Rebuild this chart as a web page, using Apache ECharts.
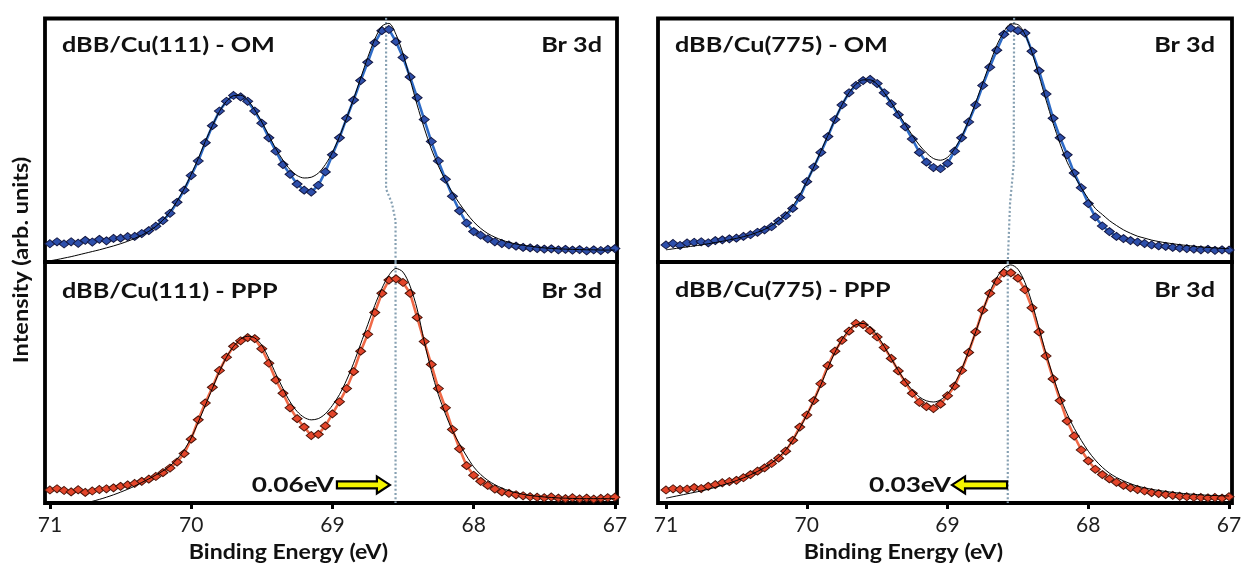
<!DOCTYPE html>
<html><head><meta charset="utf-8">
<script src="https://cdn.jsdelivr.net/npm/echarts@6/dist/echarts.min.js"></script>
<style>html,body{margin:0;padding:0;background:#fff}#c{width:1248px;height:567px}</style>
</head><body><div id="c"></div>
<script>
// ---- binding energy grid (eV) ----
const energies = [71.00,70.95,70.90,70.85,70.80,70.75,70.70,70.65,70.60,70.55,70.50,70.45,70.40,70.35,70.30,70.25,70.20,70.15,70.10,70.05,70.00,69.95,69.90,69.85,69.80,69.75,69.70,69.65,69.60,69.55,69.50,69.45,69.40,69.35,69.30,69.25,69.20,69.15,69.10,69.05,69.00,68.95,68.90,68.85,68.80,68.75,68.70,68.65,68.60,68.55,68.50,68.45,68.40,68.35,68.30,68.25,68.20,68.15,68.10,68.05,68.00,67.95,67.90,67.85,67.80,67.75,67.70,67.65,67.60,67.55,67.50,67.45,67.40,67.35,67.30,67.25,67.20,67.15,67.10,67.05,67.00];
const tickValues = [71,70,69,68,67];

// ---- dBB/Cu(111) - OM ----
const cu111OM = [7.5,8.3,7.4,8.3,7.7,8.9,8.2,9.3,8.7,9.7,9.8,10.4,10.5,11.7,12.9,14.7,17.0,20.0,24.5,29.5,35.5,41.5,49.0,56.0,62.0,66.0,68.4,67.8,66.0,62.0,57.0,51.0,45.5,40.0,36.0,32.0,29.5,28.7,31.5,37.0,44.0,51.0,59.0,66.5,74.5,82.0,90.0,95.0,95.5,90.5,84.0,76.0,67.5,58.5,49.5,41.5,34.0,27.0,21.0,16.0,12.5,11.0,9.5,8.3,7.6,7.0,6.5,6.0,5.8,5.5,5.3,5.4,5.0,5.2,4.9,5.1,4.6,5.0,4.7,5.2,5.5];
const cu111OMFit = [0.5,1.0,1.6,2.2,2.9,3.6,4.3,5.0,5.8,6.6,7.5,8.5,9.7,11.0,12.6,14.6,17.2,20.6,25.0,30.0,36.0,42.5,49.5,56.0,61.8,66.0,68.3,68.5,66.5,62.5,57.5,52.0,46.5,41.8,38.0,35.5,34.5,34.8,36.5,40.0,45.0,51.5,59.0,67.0,75.5,84.0,91.5,96.8,98.0,93.5,85.5,75.0,64.5,55.0,46.5,39.5,33.5,28.5,24.0,20.0,16.5,13.8,11.7,10.2,9.0,8.1,7.4,6.9,6.5,6.1,5.8,5.6,5.4,5.3,5.2,5.1,5.0,5.0,4.9,4.9,4.9];

// ---- dBB/Cu(111) - PPP ----
const cu111PPP = [5.4,5.9,5.2,4.6,5.5,4.4,5.0,5.6,5.9,6.3,6.9,7.5,8.1,9.0,9.9,11.0,12.6,14.5,17.0,20.5,26.5,34.5,41.5,48.0,55.0,60.5,65.0,67.3,68.6,68.2,64.0,58.0,51.0,45.5,39.5,35.0,31.5,28.0,28.5,32.0,37.0,42.0,47.5,54.5,63.0,70.0,79.0,87.0,92.5,93.0,91.5,87.0,77.0,67.0,57.5,47.5,39.5,30.5,22.5,15.5,11.5,9.0,7.3,5.8,4.6,4.0,3.4,3.0,2.6,2.4,2.2,2.5,2.0,1.8,2.2,1.7,2.0,1.6,1.9,2.2,2.4];
const cu111PPPFit = [-3.0,-2.4,-1.8,-1.2,-0.6,0.0,0.7,1.5,2.4,3.4,4.5,5.7,7.0,8.5,10.0,11.6,13.3,15.4,18.2,22.0,27.0,33.5,40.5,47.5,54.5,60.5,65.0,68.0,69.2,68.5,65.5,60.0,53.5,47.5,42.0,38.0,35.5,34.5,35.0,37.0,40.5,45.0,51.0,58.0,66.0,74.0,82.0,89.0,94.5,97.3,95.8,90.0,80.5,67.0,55.0,45.0,37.0,30.0,24.5,19.5,15.0,11.8,9.4,7.6,6.2,5.1,4.3,3.6,3.1,2.8,2.5,2.3,2.1,2.0,1.9,1.8,1.8,1.8,1.8,1.8,1.8];

// ---- dBB/Cu(775) - OM ----
const cu775OM = [7.0,7.6,6.8,7.8,8.1,8.3,7.9,8.8,9.1,9.5,9.8,10.5,11.2,12.2,13.2,14.5,16.8,19.0,22.0,26.5,33.0,39.0,45.0,51.5,58.5,64.5,69.5,72.5,74.5,75.0,73.3,69.5,65.0,60.5,55.5,50.5,45.0,41.0,38.8,38.3,40.5,45.5,51.0,57.5,64.5,72.5,80.0,87.0,93.5,96.0,95.0,94.0,86.5,78.5,69.0,59.0,51.0,44.0,36.5,30.5,24.0,18.5,14.8,12.5,10.5,9.6,8.8,8.2,7.6,7.0,6.6,6.4,6.0,5.7,5.5,5.3,5.0,5.2,4.8,5.0,4.9];
const cu775OMFit = [5.0,5.4,5.8,6.2,6.6,7.0,7.5,8.0,8.5,9.1,9.7,10.4,11.2,12.2,13.4,15.0,17.0,19.6,23.0,27.5,33.0,39.0,45.5,52.0,58.5,64.5,69.5,73.0,74.8,74.8,73.0,69.5,65.5,61.0,56.5,52.0,48.0,44.8,42.5,41.8,43.0,46.5,51.5,58.0,65.5,73.5,81.5,89.0,94.5,97.8,97.5,93.5,86.0,76.5,66.5,57.0,48.5,41.0,35.5,30.5,26.0,22.0,19.5,17.0,15.0,13.2,11.8,10.6,9.8,9.0,8.4,7.9,7.5,7.1,6.8,6.5,6.2,6.0,5.8,5.6,5.5];

// ---- dBB/Cu(775) - PPP ----
const cu775PPP = [5.4,5.9,5.6,5.8,6.4,6.0,6.9,7.6,8.4,8.9,9.4,10.5,11.8,13.2,14.6,16.4,18.6,21.5,26.0,31.5,36.5,42.5,49.5,57.0,63.0,67.5,71.3,74.5,74.0,71.5,68.9,64.5,60.0,54.8,50.0,45.5,41.8,40.0,39.2,41.0,44.5,48.5,55.0,62.5,71.0,80.0,87.0,92.0,95.5,95.5,93.3,88.5,81.0,71.0,61.0,51.5,42.5,34.0,27.8,22.0,17.5,14.0,11.8,10.0,8.6,7.3,6.3,5.6,5.0,4.3,3.9,3.5,3.2,2.8,2.6,2.4,2.3,2.1,2.3,2.0,2.6];
const cu775PPPFit = [2.0,2.6,3.2,3.8,4.4,5.0,5.7,6.5,7.4,8.3,9.3,10.4,11.7,13.1,14.7,16.6,19.0,22.0,26.0,31.0,36.5,42.5,49.0,56.0,62.5,67.8,71.8,74.0,74.5,73.0,69.5,65.0,60.0,55.0,50.5,46.8,44.0,42.4,41.9,42.8,45.3,49.5,55.5,63.0,71.0,79.5,87.5,93.5,97.5,98.8,97.0,91.5,83.0,72.5,62.0,52.5,44.0,37.0,31.0,26.0,21.5,17.8,14.8,12.4,10.6,9.2,8.0,7.0,6.3,5.7,5.2,4.8,4.4,4.1,3.8,3.6,3.4,3.2,3.1,3.0,2.9];

// ---- peak-position guide lines [eV, intensity] ----
const guide111OM  = [[68.62,102],[68.62,30],[68.578,24],[68.553,17],[68.553,0]];
const guide111PPP = [[68.553,100],[68.553,0]];
const guide775OM  = [[68.527,102],[68.53,40],[68.556,24],[68.572,0]];
const guide775PPP = [[68.572,100],[68.572,0]];

// ---- shift annotations ----
const shiftLabels = ['0.06eV','0.03eV'];
const shiftArrows = [
  {grid:1, from:68.968, to:68.593, y:7.5},
  {grid:3, from:68.577, to:68.968, y:7.5}
];
const panelTitles = ['dBB/Cu(111) - OM','dBB/Cu(111) - PPP','dBB/Cu(775) - OM','dBB/Cu(775) - PPP'];
const coreLevel = 'Br 3d';

const FONT = 'Lato';
const chart = echarts.init(document.getElementById('c'));
const pairs = (xs, ys) => xs.map((x, i) => [x, ys[i]]);

const grids = [
  {left:45, top:18.5, width:572, height:243.5},
  {left:45, top:262, width:572, height:241},
  {left:658, top:18.5, width:574, height:243.5},
  {left:658, top:262, width:574, height:241}
].map(g => Object.assign(g, {show:true, borderColor:'#000', borderWidth:3.8, backgroundColor:'rgba(0,0,0,0)'}));

const xRanges = [[66.985,71.035],[66.985,71.035],[66.979,71.057],[66.979,71.057]];
const xAxes = xRanges.map((r, i) => {
  const bottom = (i === 1 || i === 3);
  return {
    type:'value', gridIndex:i, min:r[0], max:r[1], inverse:true,
    axisLine:{show:false}, splitLine:{show:false},
    axisTick:{show:bottom, customValues:tickValues, length:6, lineStyle:{color:'#000', width:3}},
    axisLabel:{show:bottom, customValues:tickValues, fontFamily:FONT, fontSize:21, color:'#1e1e1e', margin:12,
      formatter: v => String(Math.round(v))}
  };
});
const yAxes = [0,1,2,3].map(i => ({type:'value', gridIndex:i, min:0, max:100, show:false, splitLine:{show:false}}));

const blue = {fill:'#2d4fab', edge:'#141842', line:'#2e6bc6'};
const red  = {fill:'#e4452a', edge:'#4a1409', line:'#f06a48'};
const panels = [
  {data:cu111OM, fit:cu111OMFit, guide:guide111OM, c:blue},
  {data:cu111PPP, fit:cu111PPPFit, guide:guide111PPP, c:red},
  {data:cu775OM, fit:cu775OMFit, guide:guide775OM, c:blue},
  {data:cu775PPP, fit:cu775PPPFit, guide:guide775PPP, c:red}
];
const series = [];
panels.forEach((p, i) => {
  series.push({type:'line', xAxisIndex:i, yAxisIndex:i, data:p.guide, symbol:'none', z:1, silent:true,
    lineStyle:{color:'#86a0b2', width:2.2, type:[2,2.2]}});
  series.push({type:'line', xAxisIndex:i, yAxisIndex:i, data:pairs(energies, p.data), z:2,
    symbol:'diamond', symbolSize:[10,8], showSymbol:true,
    itemStyle:{color:p.c.fill, borderColor:p.c.edge, borderWidth:1},
    lineStyle:{color:p.c.line, width:2.6}});
  series.push({type:'line', xAxisIndex:i, yAxisIndex:i, data:pairs(energies, p.fit), z:3, smooth:0.3,
    symbol:'none', lineStyle:{color:'#000', width:1}});
});

chart.setOption({animation:false, grid:grids, xAxis:xAxes, yAxis:yAxes, series:series});

// ---- annotations ----
const txt = (x, y, text, align, opts) => Object.assign({
  type:'text', x:x, y:y, z:50, scaleX:(opts && opts.sx) || 1.2,
  style:{text:text, x:0, y:0, align:align, verticalAlign:'middle', fill:'#111',
    font:'bold ' + ((opts && opts.fs) || 21) + 'px ' + FONT}
}, (opts && opts.extra) || {});

const graphic = [
  txt(62, 45, panelTitles[0], 'left'),
  txt(602, 45, coreLevel, 'right'),
  txt(62, 291, panelTitles[1], 'left'),
  txt(602, 291, coreLevel, 'right'),
  txt(675, 45, panelTitles[2], 'left'),
  txt(1215, 45, coreLevel, 'right'),
  txt(675, 290, panelTitles[3], 'left'),
  txt(1215, 290, coreLevel, 'right'),
  txt(288.5, 552, 'Binding Energy (eV)', 'center', {sx:1.1}),
  txt(903.5, 552, 'Binding Energy (eV)', 'center', {sx:1.1}),
  txt(21, 260, 'Intensity (arb. units)', 'center', {sx:1.12, extra:{rotation:Math.PI/2}})
];

shiftArrows.forEach((a, k) => {
  const p0 = chart.convertToPixel({gridIndex:a.grid}, [a.from, a.y]);
  const p1 = chart.convertToPixel({gridIndex:a.grid}, [a.to, a.y]);
  const dir = Math.sign(p1[0] - p0[0]);
  const yc = p0[1], bh = 3.5, hh = 8.5, hl = 13;
  const xb = p1[0], xa = p0[0], xn = xb - dir*hl;
  graphic.push({type:'polygon', z:40, shape:{points:[[xa,yc-bh],[xn,yc-bh],[xn,yc-hh],[xb,yc],[xn,yc+hh],[xn,yc+bh],[xa,yc+bh]]},
    style:{fill:'#f4f400', stroke:'#000', lineWidth:2.2}});
  const tx = dir > 0 ? xa - 3 : xb - 1;
  graphic.push(txt(tx, yc, shiftLabels[k], 'right', {sx:1.25}));
});
chart.setOption({graphic:graphic});
</script>
</body></html>
